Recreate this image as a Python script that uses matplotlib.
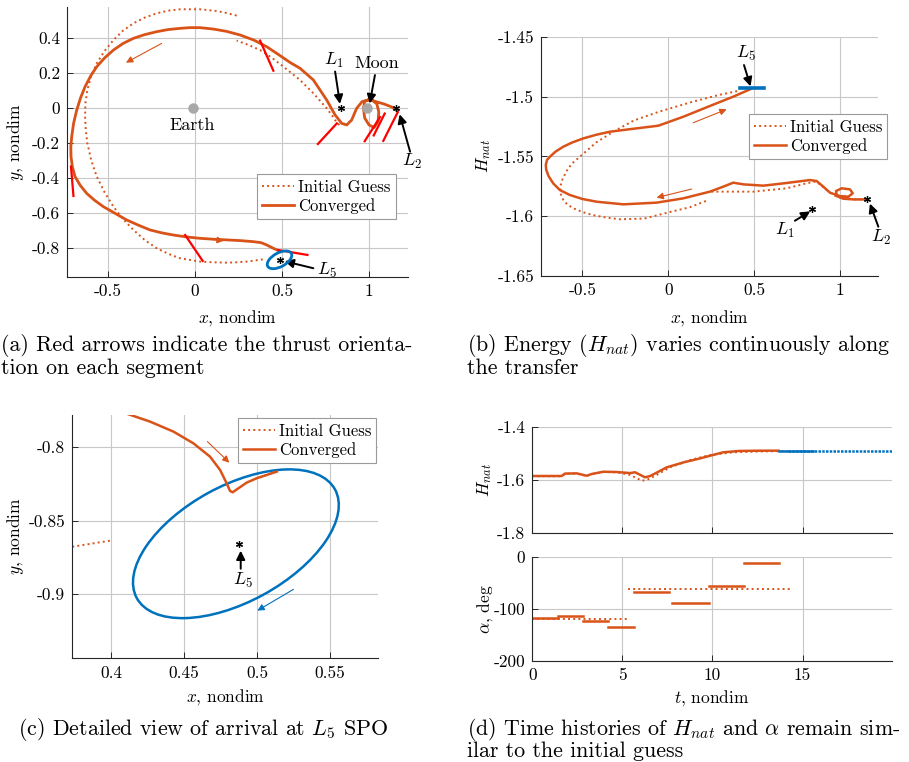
import matplotlib
matplotlib.use("Agg")
import matplotlib.pyplot as plt
from matplotlib.patches import Ellipse

plt.rcParams.update({
    "font.family": "serif",
    "font.serif": ["cmr10"],
    "mathtext.fontset": "cm",
    "axes.unicode_minus": False,
    "axes.formatter.use_mathtext": True,
    "font.size": 12.5,
})

ORANGE = "#D95319"
RED = "#FF0000"
BLUE = "#0072BD"
GRAY = "#A8A8A8"

# libration points / primaries (nondim, Earth-Moon CR3BP)
earth_xy = (-0.0122, 0.0)
moon_xy = (0.9878, 0.0)
L1_xy = (0.8369, 0.0)
L2_xy = (1.1557, 0.0)
L5_xy = (0.4878, -0.8660)

# L5 short period orbit (ellipse fit)
spo_center = (0.4855, -0.8658)
spo_width = 0.1546
spo_height = 0.0790
spo_angle = 28.6

# (a) converged transfer, x-y
conv_a_x = [1.163, 1.130, 1.085, 1.050, 1.020, 0.995, 0.975, 0.968, 0.975, 1.000, 1.030,
            1.052, 1.056, 1.045, 1.020, 0.995, 0.960, 0.929, 0.900, 0.872, 0.843, 0.805,
            0.757, 0.680, 0.603, 0.546, 0.480, 0.412, 0.340, 0.259, 0.180, 0.105, 0.029,
            -0.030, -0.086, -0.155, -0.220, -0.290, -0.354, -0.415, -0.469, -0.520,
            -0.565, -0.600, -0.632, -0.658, -0.680, -0.698, -0.709, -0.714, -0.713,
            -0.705, -0.690, -0.660, -0.623, -0.577, -0.527, -0.460, -0.393, -0.325,
            -0.259, -0.190, -0.125, -0.050, 0.029, 0.105, 0.182, 0.260, 0.335, 0.380,
            0.412, 0.450, 0.479]
conv_a_y = [-0.014, 0.008, 0.025, 0.035, 0.045, 0.048, 0.040, 0.000, -0.055, -0.095,
            -0.110, -0.075, -0.020, 0.025, 0.045, 0.048, 0.038, 0.000, -0.067, -0.095,
            -0.086, -0.038, 0.047, 0.162, 0.229, 0.262, 0.307, 0.352, 0.389, 0.419,
            0.440, 0.453, 0.461, 0.461, 0.457, 0.450, 0.438, 0.421, 0.400, 0.370, 0.333,
            0.288, 0.238, 0.185, 0.124, 0.060, -0.010, -0.085, -0.162, -0.220, -0.276,
            -0.335, -0.390, -0.440, -0.486, -0.526, -0.562, -0.600, -0.638, -0.668,
            -0.695, -0.712, -0.724, -0.735, -0.743, -0.748, -0.752, -0.756, -0.762,
            -0.768, -0.781, -0.800, -0.813]

# (a) initial guess arcs
ig_a1_x = [0.830, 0.814, 0.795, 0.757, 0.680, 0.603, 0.508, 0.440, 0.374, 0.300, 0.239]
ig_a1_y = [-0.095, -0.082, -0.051, 0.000, 0.086, 0.162, 0.238, 0.290, 0.333, 0.365, 0.387]
ig_a2_x = [0.239, 0.180, 0.125, 0.029, -0.086, -0.155, -0.220, -0.290, -0.354, -0.415,
           -0.469, -0.520, -0.565, -0.597, -0.619, -0.630, -0.632, -0.628, -0.619,
           -0.597, -0.565, -0.520, -0.469, -0.415, -0.354, -0.290, -0.220, -0.150,
           -0.086, 0.029, 0.105, 0.182, 0.240, 0.297, 0.393]
ig_a2_y = [0.530, 0.545, 0.556, 0.566, 0.566, 0.558, 0.543, 0.518, 0.486, 0.443, 0.390,
           0.328, 0.257, 0.185, 0.105, 0.030, -0.048, -0.125, -0.200, -0.295, -0.390,
           -0.480, -0.562, -0.632, -0.695, -0.752, -0.800, -0.833, -0.857, -0.876,
           -0.880, -0.882, -0.880, -0.876, -0.863]

# (a) thrust direction on each segment
thrust_x0 = [0.374, -0.713, -0.057, 0.479, 0.815, 1.063, 1.090, 1.165]
thrust_y0 = [0.387, -0.333, -0.724, -0.810, -0.086, -0.050, -0.030, -0.022]
thrust_x1 = [0.450, -0.699, 0.044, 0.646, 0.706, 0.975, 1.027, 1.082]
thrust_y1 = [0.215, -0.501, -0.872, -0.838, -0.204, -0.188, -0.155, -0.186]

# (b) energy vs x
conv_b_x = [1.153, 1.076, 1.017, 0.979, 0.975, 1.008, 1.056, 1.072, 1.047, 0.998, 0.940,
            0.901, 0.862, 0.824, 0.746, 0.669, 0.552, 0.436, 0.378, 0.320, 0.242, 0.087,
            -0.068, -0.262, -0.417, -0.500, -0.572, -0.630, -0.669, -0.696, -0.710,
            -0.712, -0.705, -0.688, -0.655, -0.610, -0.560, -0.494, -0.420, -0.339,
            -0.184, -0.058, 0.087, 0.242, 0.378, 0.475, 0.487]
conv_b_H = [-1.5860, -1.5860, -1.5854, -1.5832, -1.5790, -1.5767, -1.5776, -1.5809,
            -1.5837, -1.5832, -1.5804, -1.5753, -1.5706, -1.5698, -1.5712, -1.5726,
            -1.5745, -1.5734, -1.5720, -1.5753, -1.5795, -1.5851, -1.5887, -1.5901,
            -1.5879, -1.5856, -1.5823, -1.5782, -1.5726, -1.5665, -1.5610, -1.5570,
            -1.5530, -1.5503, -1.5460, -1.5419, -1.5385, -1.5350, -1.5320, -1.5294,
            -1.5266, -1.5244, -1.5169, -1.5079, -1.5001, -1.4940, -1.4932]
ig_b1_x = [0.400, 0.300, 0.150, -0.050, -0.200, -0.320, -0.420, -0.514, -0.560, -0.590,
           -0.615, -0.628, -0.625, -0.610, -0.585, -0.550, -0.500, -0.440, -0.360,
           -0.281, -0.140, 0.010, 0.126, 0.233]
ig_b1_H = [-1.4955, -1.4985, -1.5040, -1.5125, -1.5200, -1.5294, -1.5385, -1.5503,
           -1.5560, -1.5620, -1.5690, -1.5753, -1.5815, -1.5865, -1.5905, -1.5935,
           -1.5965, -1.5990, -1.6012, -1.6026, -1.6020, -1.5965, -1.5925, -1.5865]
ig_b2_x = [0.250, 0.281, 0.494, 0.688, 0.805, 0.860, 0.920, 0.980, 1.080, 1.150]
ig_b2_H = [-1.5795, -1.5795, -1.5795, -1.5767, -1.5725, -1.5710, -1.5780, -1.5840,
           -1.5860, -1.5860]
spo_x_range = [0.414, 0.556]
spo_H = -1.4932
L1_H = -1.5943
L2_H = -1.5860

# (c) arrival detail
conv_c_x = [0.4114, 0.4267, 0.4427, 0.4564, 0.4678, 0.4747, 0.4792, 0.4815, 0.4833,
            0.4872, 0.4929, 0.4998, 0.5066, 0.5135]
conv_c_y = [-0.7773, -0.7825, -0.7893, -0.7973, -0.8064, -0.8155, -0.8246, -0.8298,
            -0.8307, -0.8280, -0.8241, -0.8211, -0.8189, -0.8166]
ig_c1_x = [0.3700, 0.3993]
ig_c1_y = [-0.8684, -0.8637]
ig_c2_x = [0.5020, 0.5146]
ig_c2_y = [-0.8205, -0.8159]

# (d) time histories
t_conv = [0, 1.63, 1.81, 2.46, 3.02, 3.30, 3.94, 4.69, 5.43, 5.70, 6.00, 6.26, 6.54,
          6.90, 7.46, 8.39, 9.31, 9.87, 10.6, 11.5, 12.65, 13.67]
H_conv = [-1.585, -1.585, -1.576, -1.575, -1.584, -1.5775, -1.569, -1.570, -1.574,
          -1.571, -1.581, -1.590, -1.585, -1.5725, -1.5525, -1.534, -1.519, -1.509,
          -1.496, -1.491, -1.490, -1.490]
t_ig = [0, 1.63, 1.81, 2.46, 3.02, 3.30, 3.94, 4.69, 5.43, 5.80, 6.07, 6.35, 6.90,
        7.65, 8.76, 9.87, 11.17, 13.0, 14.2]
H_ig = [-1.586, -1.586, -1.577, -1.576, -1.585, -1.578, -1.570, -1.571, -1.581, -1.593,
        -1.6025, -1.600, -1.581, -1.5525, -1.525, -1.506, -1.496, -1.4925, -1.4915]
t_spo_conv = [13.67, 15.6]
t_spo_ig = [14.2, 19.95]
H_spo = -1.4915

seg_t0 = [0, 1.42, 2.80, 4.20, 5.65, 7.75, 9.80, 11.75]
seg_t1 = [1.42, 2.80, 4.20, 5.65, 7.60, 9.80, 11.75, 13.70]
seg_alpha = [-117.0, -113.2, -122.2, -133.8, -66.2, -87.5, -54.7, -10.3]
ig_seg_t0 = [0, 5.30]
ig_seg_t1 = [5.30, 14.30]
ig_seg_alpha = [-119.6, -61.1]

W, H = 909, 762


def box(left, top, right, bottom):
    return [left / W, 1 - bottom / H, (right - left) / W, (bottom - top) / H]


def style(ax):
    for s in ("top", "right"):
        ax.spines[s].set_visible(False)
    for s in ("left", "bottom"):
        ax.spines[s].set_color("#262626")
        ax.spines[s].set_linewidth(0.8)
    ax.tick_params(direction="in", length=4, width=0.7, color="#262626", labelsize=12.5,
                   pad=5)
    ax.grid(True, color="#C8C8C8", lw=0.8)
    ax.set_axisbelow(True)


def ticks(ax, xt, xl, yt, yl):
    ax.set_xticks(xt)
    ax.set_xticklabels(xl)
    ax.set_yticks(yt)
    ax.set_yticklabels(yl)


def arrow(ax, start, end, color="k", lw=1.4, ms=13):
    ax.annotate("", xy=end, xytext=start, annotation_clip=False,
                arrowprops=dict(arrowstyle="-|>", color=color, lw=lw,
                                mutation_scale=ms, shrinkA=0, shrinkB=0))


def star(ax, xy):
    ax.plot(*xy, marker=(6, 2, 0), color="k", ms=5, mew=0.9, zorder=6)


def legend(ax, handles, x0, ytop):
    lg = ax.legend(handles, ["Initial Guess", "Converged"], loc="upper left",
                   bbox_to_anchor=(x0, ytop), fontsize=12, fancybox=False,
                   framealpha=1, edgecolor="#9A9A9A", borderpad=0.3,
                   handlelength=1.9, handletextpad=0.25, labelspacing=0.2,
                   borderaxespad=0)
    lg.get_frame().set_linewidth(0.8)


fig = plt.figure(figsize=(W / 100, H / 100), dpi=100)

# ---------------- (a) x-y view of the transfer
ax = fig.add_axes(box(67, 7, 408, 277))
style(ax)
ax.set_xlim(-0.736, 1.224)
ax.set_ylim(-0.964, 0.579)
ticks(ax, [-0.5, 0, 0.5, 1], ["-0.5", "0", "0.5", "1"],
      [-0.8, -0.6, -0.4, -0.2, 0, 0.2, 0.4],
      ["-0.8", "-0.6", "-0.4", "-0.2", "0", "0.2", "0.4"])
h_ig, = ax.plot(ig_a1_x, ig_a1_y, ls=":", color=ORANGE, lw=1.4)
ax.plot(ig_a2_x, ig_a2_y, ls=":", color=ORANGE, lw=1.4)
h_cv, = ax.plot(conv_a_x, conv_a_y, color=ORANGE, lw=2.0, solid_joinstyle="round")
for x0, y0, x1, y1 in zip(thrust_x0, thrust_y0, thrust_x1, thrust_y1):
    ax.plot([x0, x1], [y0, y1], color=RED, lw=1.6, zorder=4)
ax.add_patch(Ellipse(spo_center, spo_width, spo_height, angle=spo_angle,
                     fill=False, ec=BLUE, lw=2.0, zorder=5))
ax.plot(*earth_xy, "o", color=GRAY, ms=7.5, mec="none", zorder=5)
ax.plot(*moon_xy, "o", color=GRAY, ms=7.5, mec="none", zorder=5)
for p in (L1_xy, L2_xy, L5_xy):
    star(ax, p)
ax.text(-0.019, -0.095, "Earth", ha="center", va="center", fontsize=13)
ax.text(1.044, 0.257, "Moon", ha="center", va="center", fontsize=13)
ax.text(0.80, 0.275, "$L_1$", ha="center", va="center", fontsize=13)
ax.text(1.248, -0.305, "$L_2$", ha="center", va="center", fontsize=13)
ax.text(0.757, -0.924, "$L_5$", ha="center", va="center", fontsize=13)
arrow(ax, (0.805, 0.21), (0.833, 0.025))
arrow(ax, (1.034, 0.19), (1.004, 0.028))
arrow(ax, (1.236, -0.248), (1.176, -0.034))
arrow(ax, (0.68, -0.914), (0.515, -0.874))
arrow(ax, (-0.192, 0.371), (-0.397, 0.261), color=ORANGE, lw=0.8, ms=10)
arrow(ax, (-0.115, -0.726), (0.165, -0.757), color=ORANGE, lw=0.8, ms=10)
legend(ax, [h_ig, h_cv], 0.558, 0.38)
ax.set_xlabel("$x$, nondim", fontsize=12.5, va="center")
ax.xaxis.set_label_coords(0.5, -0.152)
ax.set_ylabel("$y$, nondim", fontsize=12.5, va="center")
ax.yaxis.set_label_coords(-0.152, 0.5)

# ---------------- (b) energy along the transfer
ax = fig.add_axes(box(541, 36.7, 878, 276))
style(ax)
ax.set_xlim(-0.740, 1.219)
ax.set_ylim(-1.65, -1.45)
ticks(ax, [-0.5, 0, 0.5, 1], ["-0.5", "0", "0.5", "1"],
      [-1.65, -1.6, -1.55, -1.5, -1.45], ["-1.65", "-1.6", "-1.55", "-1.5", "-1.45"])
h_ig, = ax.plot(ig_b1_x, ig_b1_H, ls=":", color=ORANGE, lw=1.4)
ax.plot(ig_b2_x, ig_b2_H, ls=":", color=ORANGE, lw=1.4)
h_cv, = ax.plot(conv_b_x, conv_b_H, color=ORANGE, lw=1.8, solid_joinstyle="round")
ax.plot(spo_x_range, [spo_H, spo_H], color=BLUE, lw=2.6, zorder=5)
star(ax, (L1_xy[0], L1_H))
star(ax, (L2_xy[0], L2_H))
ax.text(0.452, -1.4639, "$L_5$", ha="center", va="center", fontsize=13)
ax.text(0.678, -1.6116, "$L_1$", ha="center", va="center", fontsize=13)
ax.text(1.234, -1.6177, "$L_2$", ha="center", va="center", fontsize=13)
arrow(ax, (0.44, -1.4737), (0.478, -1.4915))
arrow(ax, (0.736, -1.6038), (0.825, -1.5960))
arrow(ax, (1.221, -1.6088), (1.172, -1.5895))
arrow(ax, (0.145, -1.5219), (0.339, -1.5107), color=ORANGE, lw=0.8, ms=10)
arrow(ax, (0.136, -1.5773), (-0.068, -1.5845), color=ORANGE, lw=0.8, ms=10)
legend(ax, [h_ig, h_cv], 0.617, 0.676)
ax.set_xlabel("$x$, nondim", fontsize=12.5, va="center")
ax.xaxis.set_label_coords(0.5, -0.176)
ax.set_ylabel("$H_{nat}$", fontsize=12.5, va="center")
ax.yaxis.set_label_coords(-0.172, 0.5)

# ---------------- (c) arrival at the L5 SPO
ax = fig.add_axes(box(72.3, 415, 378.3, 658.3))
style(ax)
ax.set_xlim(0.3735, 0.583)
ax.set_ylim(-0.9439, -0.778)
ticks(ax, [0.4, 0.45, 0.5, 0.55], ["0.4", "0.45", "0.5", "0.55"],
      [-0.9, -0.85, -0.8], ["-0.9", "-0.85", "-0.8"])
h_ig, = ax.plot(ig_c1_x, ig_c1_y, ls=":", color=ORANGE, lw=1.4)
ax.plot(ig_c2_x, ig_c2_y, ls=":", color=ORANGE, lw=1.4)
ax.add_patch(Ellipse(spo_center, spo_width, spo_height, angle=spo_angle,
                     fill=False, ec=BLUE, lw=1.8, zorder=3))
h_cv, = ax.plot(conv_c_x, conv_c_y, color=ORANGE, lw=1.8, zorder=4)
star(ax, L5_xy)
ax.text(0.4902, -0.8905, "$L_5$", ha="center", va="center", fontsize=13)
arrow(ax, (0.4888, -0.8828), (0.4888, -0.8705))
arrow(ax, (0.466, -0.7961), (0.481, -0.8105), color=ORANGE, lw=0.8, ms=10)
arrow(ax, (0.5249, -0.8969), (0.5002, -0.9114), color=BLUE, lw=0.8, ms=10)
legend(ax, [h_ig, h_cv], 0.542, 0.986)
ax.set_xlabel("$x$, nondim", fontsize=12.5, va="center")
ax.xaxis.set_label_coords(0.5, -0.159)
ax.set_ylabel("$y$, nondim", fontsize=12.5, va="center")
ax.yaxis.set_label_coords(-0.187, 0.5)

# ---------------- (d) time histories
axH = fig.add_axes(box(532.3, 426.7, 891.7, 533.3))
style(axH)
axH.set_xlim(0, 19.95)
axH.set_ylim(-1.8, -1.4)
ticks(axH, [0, 5, 10, 15], [], [-1.8, -1.6, -1.4], ["-1.8", "-1.6", "-1.4"])
axH.plot(t_ig, H_ig, ls=":", color=ORANGE, lw=1.4)
axH.plot(t_conv, H_conv, color=ORANGE, lw=1.8)
axH.plot(t_spo_ig, [H_spo, H_spo], ls=(0, (1, 0.5)), color=BLUE, lw=1.8)
axH.plot(t_spo_conv, [H_spo, H_spo], color=BLUE, lw=1.8)
axH.set_ylabel("$H_{nat}$", fontsize=12.5, va="center")
axH.yaxis.set_label_coords(-0.132, 0.5)

axA = fig.add_axes(box(532.3, 557.3, 891.7, 661))
style(axA)
axA.set_xlim(0, 19.95)
axA.set_ylim(-200, 0)
ticks(axA, [0, 5, 10, 15], ["0", "5", "10", "15"], [-200, -100, 0],
      ["-200", "-100", "0"])
for a, b, v in zip(ig_seg_t0, ig_seg_t1, ig_seg_alpha):
    axA.plot([a, b], [v, v], ls=":", color=ORANGE, lw=1.4)
for a, b, v in zip(seg_t0, seg_t1, seg_alpha):
    axA.plot([a, b], [v, v], color=ORANGE, lw=1.8)
axA.set_xlabel("$t$, nondim", fontsize=12.5, va="center")
axA.xaxis.set_label_coords(0.5, -0.357)
axA.set_ylabel(r"$\alpha$, deg", fontsize=12.5, va="center")
axA.yaxis.set_label_coords(-0.132, 0.5)

# ---------------- captions
cap = dict(fontsize=15.8, va="baseline", ha="left")
fig.text(1 / W, 1 - 351 / H, "(a) Red arrows indicate the thrust orienta-", **cap)
fig.text(1 / W, 1 - 374 / H, "tion on each segment", **cap)
fig.text(467 / W, 1 - 351 / H, "(b) Energy ($H_{nat}$) varies continuously along", **cap)
fig.text(467 / W, 1 - 374 / H, "the transfer", **cap)
fig.text(18 / W, 1 - 735 / H, "(c) Detailed view of arrival at $L_5$ SPO", **cap)
fig.text(467 / W, 1 - 735 / H, r"(d) Time histories of $H_{nat}$ and $\alpha$ remain sim-", **cap)
fig.text(467 / W, 1 - 757 / H, "ilar to the initial guess", **cap)

fig.savefig("out.png", dpi=100)
